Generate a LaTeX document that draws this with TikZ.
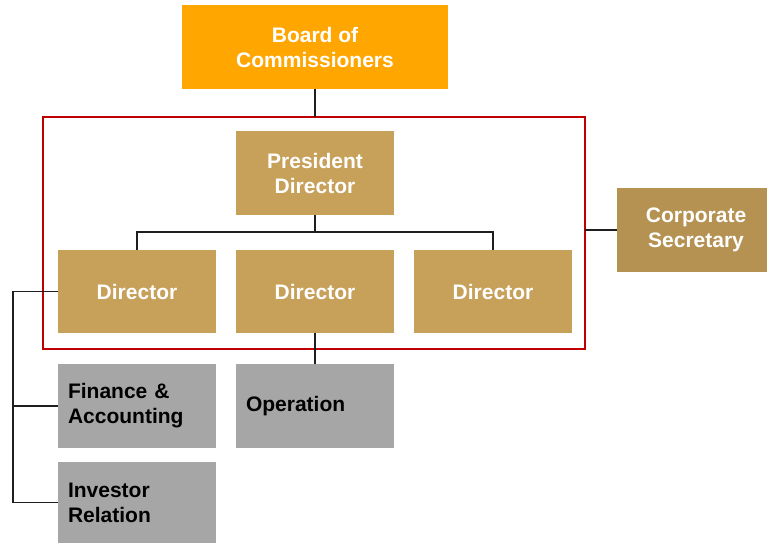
\documentclass[tikz,border=0pt]{standalone}
\usepackage{fontspec}
\setmainfont{Liberation Sans}
\begin{document}
\definecolor{boardorange}{RGB}{255,166,0}
\definecolor{dirgold}{RGB}{199,160,90}
\definecolor{secgold}{RGB}{181,146,82}
\definecolor{unitgray}{RGB}{166,166,166}
\definecolor{framered}{RGB}{192,0,0}
\definecolor{linkgray}{RGB}{30,30,30}
\begin{tikzpicture}[x=1pt,y=-1pt,
  every node/.style={inner sep=0pt, outer sep=0pt},
  lbl/.style={font=\fontsize{21}{25}\selectfont\bfseries},
  orgbox/.style={rectangle, lbl, text=white, align=center,
    minimum width=158pt, minimum height=84pt},
  unitbox/.style={rectangle, lbl, fill=unitgray, text=black, align=left,
    inner xsep=10pt, text width=138pt, minimum height=84pt},
  link/.style={draw=linkgray, line width=1.2pt},
]
  % canvas
  \useasboundingbox[fill=white] (0,0) rectangle (767,543);

  % board and management frame
  \node[orgbox, fill=boardorange, minimum width=266pt] (board) at (315,47) {Board of\\Commissioners};
  \node[rectangle, draw=framered, line width=2.2pt, minimum width=542pt, minimum height=232pt] (frame) at (314,233) {};

  % directors
  \node[orgbox, fill=dirgold] (pres) at (315,173) {President\\Director};
  \node[orgbox, fill=dirgold, minimum height=83pt] (d1) at (137,291.5) {Director};
  \node[orgbox, fill=dirgold, minimum height=83pt] (d2) at (315,291.5) {Director};
  \node[orgbox, fill=dirgold, minimum height=83pt] (d3) at (493,291.5) {Director};

  % corporate secretary (runs past the right edge of the page)
  \node[orgbox, fill=secgold] (sec) at (696,230) {Corporate\\Secretary};

  % units
  \node[unitbox] (fin) at (137,406) {Finance \&\\Accounting};
  \node[unitbox] (op) at (315,406) {Operation};
  \node[unitbox, minimum height=81pt] (inv) at (137,502.5) {Investor\\Relation};

  % connectors
  \coordinate (bus) at (315,232);
  \coordinate (spine) at (13,292);
  \draw[link] (board.south) -- (board.south |- frame.north);
  \draw[link] (pres.south) -- (bus);
  \draw[link] (d1.north) |- (bus) -| (d3.north);
  \draw[link] (d2.south) -- (op.north);
  \draw[link] (sec.west) -- (sec.west -| frame.east);
  \draw[link] (d1.west) -- (d1.west -| spine) |- (inv.west);
  \draw[link] (fin.west) -- (fin.west -| spine);
\end{tikzpicture}
\end{document}
